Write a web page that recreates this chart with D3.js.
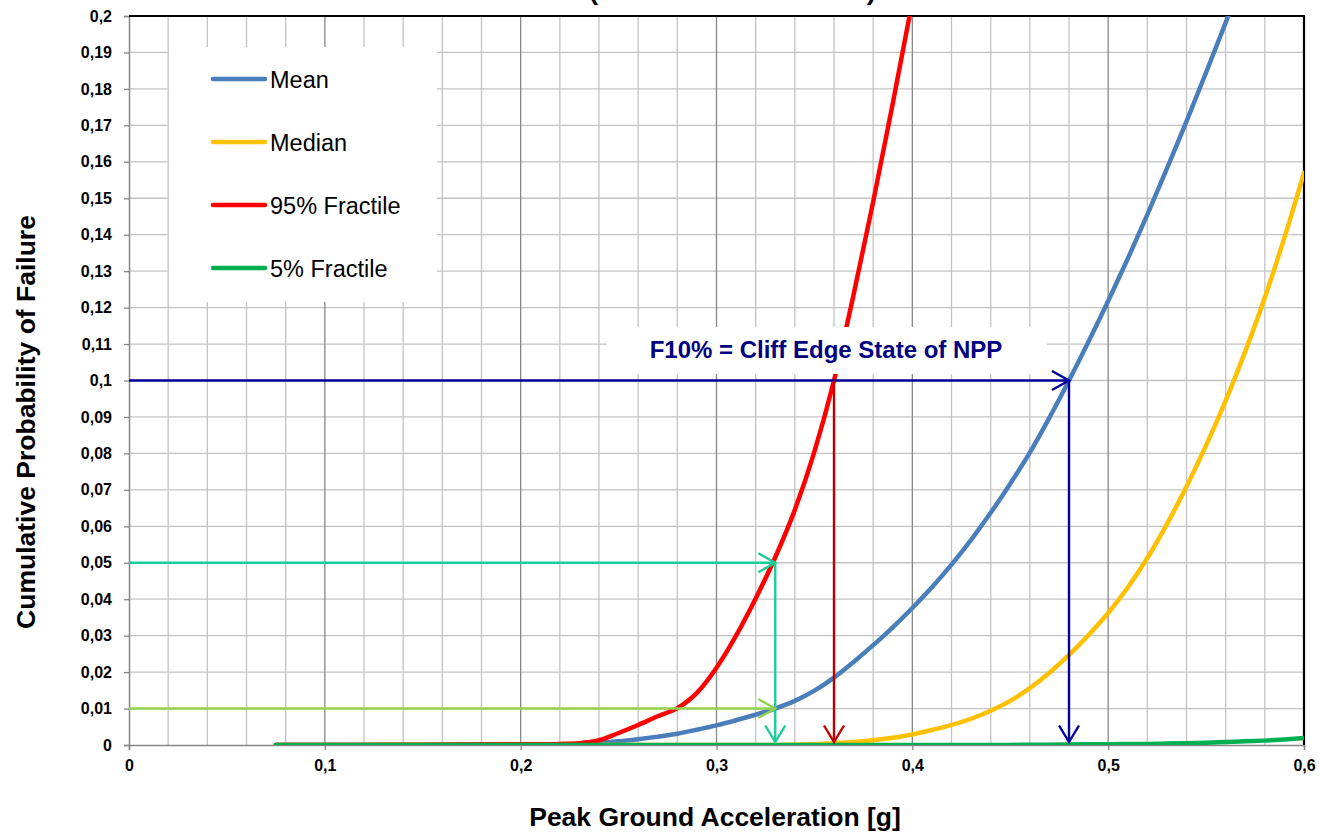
<!DOCTYPE html>
<html>
<head>
<meta charset="utf-8">
<script src="https://cdn.jsdelivr.net/npm/d3@7"></script>
<style>
  html, body { margin: 0; padding: 0; background: #fff; }
  svg { display: block; }
</style>
</head>
<body>
<svg id="chart" width="1319" height="832"></svg>
<script>
// ---------------- DATA ----------------
const pga = [0.075, 0.1, 0.15, 0.2, 0.21, 0.22, 0.23, 0.24, 0.25, 0.26, 0.27, 0.28, 0.29, 0.30,
  0.31, 0.32, 0.33, 0.34, 0.35, 0.36, 0.37, 0.38, 0.39, 0.40, 0.41, 0.42, 0.43, 0.44, 0.45,
  0.46, 0.47, 0.48, 0.49, 0.50, 0.51, 0.52, 0.53, 0.54, 0.55, 0.56, 0.57, 0.58, 0.59, 0.60];

const meanValues = [0, 0, 0, 0.0001, 0.0001, 0.0002, 0.0003, 0.0006, 0.0010, 0.0016, 0.0023, 0.0031, 0.0042, 0.0054,
  0.0068, 0.0083, 0.0100, 0.0121, 0.0149, 0.0185, 0.0228, 0.0274, 0.0323, 0.0376, 0.0433, 0.0495, 0.0563, 0.0637, 0.0717,
  0.0802, 0.0898, 0.1000, 0.1107, 0.1218, 0.1334, 0.1455, 0.1581, 0.1711, 0.1845, 0.1982, 0.2122, 0.2265, 0.2410, 0.2557];

const medianValues = [0, 0, 0, 0, 0, 0, 0, 0, 0, 0, 0, 0, 0, 0,
  0, 0, 0, 0.0001, 0.0002, 0.0005, 0.0008, 0.0013, 0.0020, 0.0029, 0.0041, 0.0055, 0.0072, 0.0094, 0.0121,
  0.0156, 0.0198, 0.0247, 0.0302, 0.0362, 0.0432, 0.0513, 0.0606, 0.0709, 0.0822, 0.0945, 0.1080, 0.1228, 0.1392, 0.1570];

const p95Values = [0, 0, 0.0001, 0.0002, 0.0002, 0.0003, 0.0005, 0.0013, 0.0033, 0.0055, 0.0079, 0.0101, 0.0143, 0.0212,
  0.0300, 0.0402, 0.0515, 0.0645, 0.0805, 0.1000, 0.1235, 0.1490, 0.1760, 0.2040, 0.2330, null, null, null, null,
  null, null, null, null, null, null, null, null, null, null, null, null, null, null, null];

const p5Values = [0, 0, 0, 0, 0, 0, 0, 0, 0, 0, 0, 0, 0, 0,
  0, 0, 0, 0, 0, 0, 0, 0, 0, 0, 0, 0, 0, 0, 0,
  0.0001, 0.0001, 0.00015, 0.00018, 0.0002, 0.00025, 0.0003, 0.0004, 0.0005, 0.00065, 0.0008, 0.0010, 0.0012, 0.0015, 0.0019];

const seriesNames = ["Mean", "Median", "95% Fractile", "5% Fractile"];
const seriesColors = ["#4a7ebb", "#ffc000", "#ff0000", "#00b050"];

const xTicks = [0, 0.1, 0.2, 0.3, 0.4, 0.5, 0.6];
const xMinorGrid = [0.02, 0.04, 0.06, 0.08, 0.12, 0.14, 0.16, 0.18, 0.22, 0.24, 0.26, 0.28,
  0.32, 0.34, 0.36, 0.38, 0.42, 0.44, 0.46, 0.48, 0.52, 0.54, 0.56, 0.58];
const yTicks = [0, 0.01, 0.02, 0.03, 0.04, 0.05, 0.06, 0.07, 0.08, 0.09, 0.1,
  0.11, 0.12, 0.13, 0.14, 0.15, 0.16, 0.17, 0.18, 0.19, 0.2];

// reading arrows: probability level -> PGA
const arrowLevels = [0.1, 0.1, 0.05, 0.01];
const arrowPga = [0.48, 0.36, 0.33, 0.33];
const arrowHorizontal = [true, false, true, true];
const arrowVertical = [true, true, true, false];
const arrowColors = ["#000099", "#c00000", "#1dcc98", "#92d050"];

const annotationText = "F10% = Cliff Edge State of NPP";
const xTitle = "Peak Ground Acceleration [g]";
const yTitle = "Cumulative Probability of Failure";
const chartTitle = "(FRAGILITY CURVES)";

// ---------------- LAYOUT ----------------
const svg = d3.select("#chart");
const pLeft = 129, pTop = 16, pRight = 1304, pBottom = 745;
const FONT = "Liberation Sans, Arial, sans-serif";

const x = d3.scaleLinear().domain([0, 0.6]).range([pLeft, pRight]);
const y = d3.scaleLinear().domain([0, 0.2]).range([pBottom, pTop]);

const locale = d3.formatLocale({decimal: ",", thousands: ".", grouping: [3], currency: ["", ""]});
const fmt = locale.format("~g");

// clip
svg.append("defs").append("clipPath").attr("id", "plotclip")
  .append("rect").attr("x", pLeft).attr("y", pTop).attr("width", pRight - pLeft).attr("height", pBottom - pTop);

// gridlines
const grid = svg.append("g");
grid.selectAll(".hg").data(yTicks.filter(d => d > 0)).enter().append("line")
  .attr("x1", pLeft).attr("x2", pRight).attr("y1", d => y(d)).attr("y2", d => y(d))
  .attr("stroke", "#c3c3c3").attr("stroke-width", 1.3);
grid.selectAll(".vg").data(xMinorGrid).enter().append("line")
  .attr("y1", pTop).attr("y2", pBottom).attr("x1", d => x(d)).attr("x2", d => x(d))
  .attr("stroke", "#c3c3c3").attr("stroke-width", 1.3);
grid.selectAll(".vmg").data(xTicks.filter(d => d > 0 && d < 0.6)).enter().append("line")
  .attr("y1", pTop).attr("y2", pBottom).attr("x1", d => x(d)).attr("x2", d => x(d))
  .attr("stroke", "#878787").attr("stroke-width", 1.3);

// axes
const yAxis = d3.axisLeft(y).tickValues(yTicks).tickFormat(fmt).tickSize(5).tickPadding(12);
const gy = svg.append("g").attr("transform", `translate(${pLeft},0)`).call(yAxis);
gy.select(".domain").attr("stroke", "#868686").attr("stroke-width", 1.5);
gy.selectAll(".tick line").attr("stroke", "#868686").attr("stroke-width", 1.3);
gy.selectAll(".tick text").attr("font-family", FONT)
  .attr("font-size", 16).attr("font-weight", "bold").attr("fill", "#000");

const xAxis = d3.axisBottom(x).tickValues(xTicks).tickFormat(fmt).tickSize(5).tickPadding(10);
const gx = svg.append("g").attr("transform", `translate(0,${pBottom})`).call(xAxis);
gx.select(".domain").attr("stroke", "#868686").attr("stroke-width", 1.5);
gx.selectAll(".tick line").attr("stroke", "#868686").attr("stroke-width", 1.3);
gx.selectAll(".tick text").attr("font-family", FONT)
  .attr("font-size", 16).attr("font-weight", "bold").attr("fill", "#000");

// top & right border
svg.append("line").attr("x1", pLeft).attr("x2", pRight + 1).attr("y1", pTop).attr("y2", pTop)
  .attr("stroke", "#000").attr("stroke-width", 2.2);
svg.append("line").attr("x1", pRight).attr("x2", pRight).attr("y1", pTop).attr("y2", pBottom)
  .attr("stroke", "#000").attr("stroke-width", 2.2);

// curves
const allSeries = [meanValues, medianValues, p95Values, p5Values];
const line = d3.line()
  .defined(d => d[1] !== null)
  .x(d => x(d[0])).y(d => y(d[1]))
  .curve(d3.curveMonotoneX);
const curves = svg.append("g").attr("clip-path", "url(#plotclip)");
allSeries.forEach((vals, i) => {
  curves.append("path")
    .datum(pga.map((p, j) => [p, vals[j]]))
    .attr("d", line)
    .attr("fill", "none")
    .attr("stroke", seriesColors[i])
    .attr("stroke-width", 4.5)
    .attr("stroke-linejoin", "round")
    .attr("stroke-linecap", "round");
});

// arrows
const arrows = svg.append("g");
function arrowHead(g, tx, ty, dir, color) {
  let pts;
  if (dir === "right") pts = [[tx - 17, ty - 9.5], [tx, ty], [tx - 17, ty + 9.5]];
  else pts = [[tx - 10, ty - 16.5], [tx, ty], [tx + 10, ty - 16.5]];
  g.append("polyline").attr("points", pts.map(p => p.join(",")).join(" "))
    .attr("fill", "none").attr("stroke", color).attr("stroke-width", 2.4)
    .attr("stroke-linejoin", "miter");
}
arrowLevels.forEach((lv, i) => {
  const c = arrowColors[i];
  const px = x(arrowPga[i]), py = y(lv);
  if (arrowHorizontal[i]) {
    arrows.append("line").attr("x1", pLeft).attr("x2", px).attr("y1", py).attr("y2", py)
      .attr("stroke", c).attr("stroke-width", 2.4);
    arrowHead(arrows, px, py, "right", c);
  }
  if (arrowVertical[i]) {
    arrows.append("line").attr("x1", px).attr("x2", px).attr("y1", py).attr("y2", pBottom - 3)
      .attr("stroke", c).attr("stroke-width", 2.4);
    arrowHead(arrows, px, pBottom - 3, "down", c);
  }
});

// annotation box
svg.append("rect").attr("x", 607).attr("y", 327).attr("width", 440).attr("height", 47).attr("fill", "#fff");
svg.append("text").attr("x", 826).attr("y", 357.5).attr("text-anchor", "middle")
  .attr("font-family", FONT).attr("font-weight", "bold")
  .attr("font-size", 24).attr("fill", "#000080").text(annotationText);

// legend
const lg = svg.append("g");
lg.append("rect").attr("x", 169).attr("y", 47).attr("width", 268).attr("height", 255).attr("fill", "#fff");
seriesNames.forEach((name, i) => {
  const ly = 79 + i * 63;
  lg.append("line").attr("x1", 213).attr("x2", 265).attr("y1", ly).attr("y2", ly)
    .attr("stroke", seriesColors[i]).attr("stroke-width", 4.5).attr("stroke-linecap", "round");
  lg.append("text").attr("x", 270).attr("y", ly + 8.5)
    .attr("font-family", FONT).attr("font-size", 23.5)
    .attr("fill", "#000").text(name);
});

// titles
svg.append("text").attr("x", 715).attr("y", 826).attr("text-anchor", "middle")
  .attr("font-family", FONT).attr("font-weight", "bold")
  .attr("font-size", 26.5).attr("fill", "#000").text(xTitle);
svg.append("text").attr("transform", "translate(35,422) rotate(-90)").attr("text-anchor", "middle")
  .attr("font-family", FONT).attr("font-weight", "bold")
  .attr("font-size", 26.5).attr("fill", "#000").text(yTitle);
svg.append("text").attr("x", 589).attr("y", 0)
  .attr("textLength", 287).attr("lengthAdjust", "spacingAndGlyphs")
  .attr("font-family", FONT).attr("font-weight", "bold")
  .attr("font-size", 24).attr("fill", "#000").text(chartTitle);
</script>
</body>
</html>
